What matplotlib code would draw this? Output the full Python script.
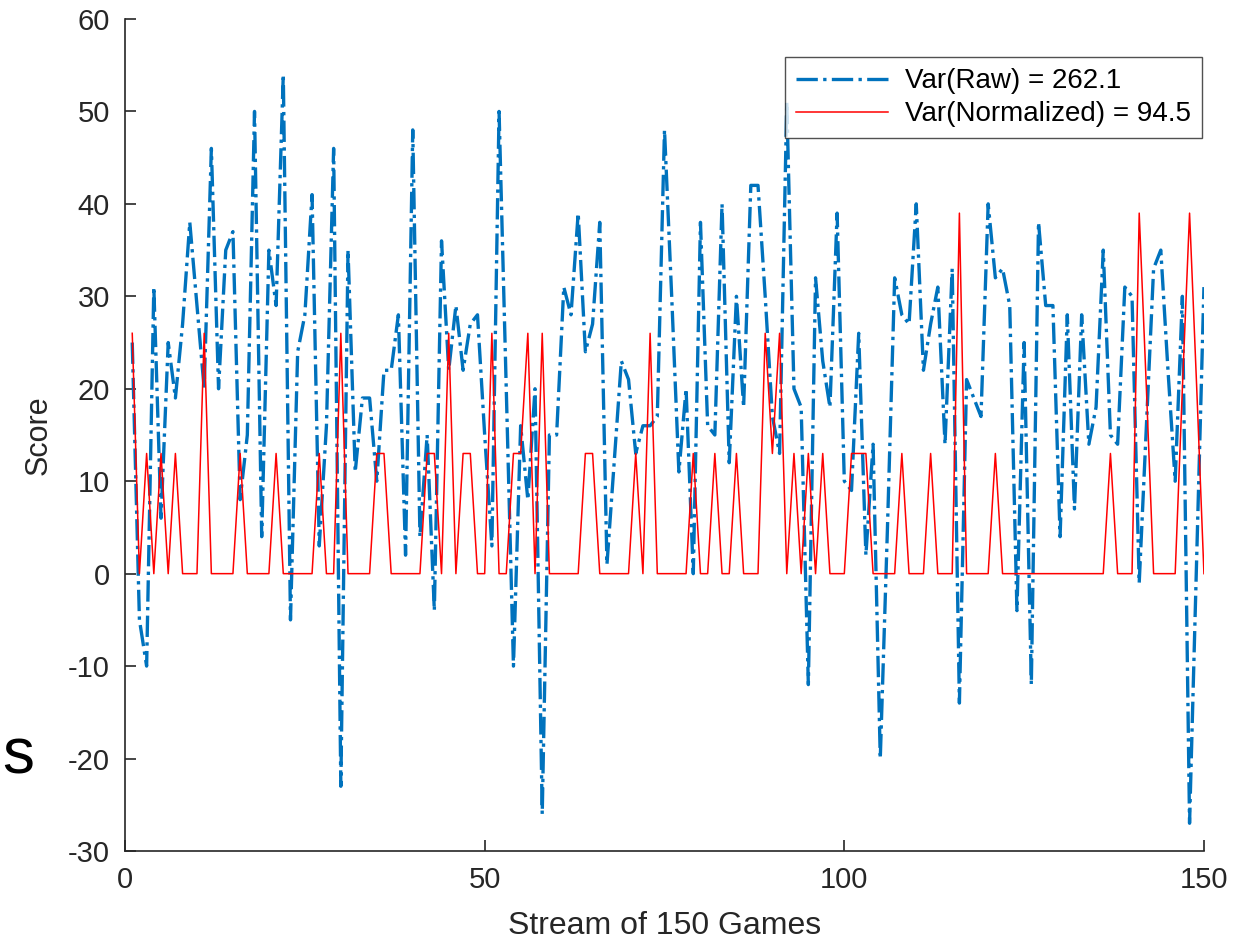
import numpy as np
import matplotlib.pyplot as plt

# scores over the stream of 150 games
games = list(range(1, 151))
raw = [25, -5, -10, 31, 6, 25, 19, 27, 38, 29,
       20, 46, 20, 35, 37, 8, 15, 50, 4, 35,
       29, 54, -5, 24, 28, 41, 3, 16, 46, -23,
       35, 11, 19, 19, 10, 22, 22, 28, 2, 48,
       4, 15, -4, 36, 22, 29, 22, 27, 28, 15,
       3, 50, 20, -10, 16, 8, 20, -26, 15, 15,
       31, 28, 39, 24, 27, 38, 1, 12, 23, 21,
       13, 16, 16, 17, 48, 30, 11, 20, 0, 38,
       16, 15, 40, 12, 30, 18, 42, 42, 30, 17,
       13, 51, 20, 18, -12, 32, 23, 18, 39, 10,
       9, 26, 2, 14, -20, 5, 32, 28, 27, 40,
       22, 27, 31, 14, 33, -14, 21, 19, 17, 40,
       32, 33, 29, -4, 25, -12, 38, 29, 29, 4,
       28, 7, 28, 14, 18, 35, 15, 14, 31, 30,
       -1, 16, 33, 35, 22, 10, 30, -27, 2, 31]
normalized = [26, 0, 13, 0, 13, 0, 13, 0, 0, 0,
              26, 0, 0, 0, 0, 13, 0, 0, 0, 0,
              13, 0, 0, 0, 0, 0, 13, 0, 0, 26,
              0, 0, 0, 0, 13, 13, 0, 0, 0, 0,
              0, 13, 13, 0, 26, 0, 13, 13, 0, 0,
              26, 0, 0, 13, 13, 26, 0, 26, 0, 0,
              0, 0, 0, 13, 13, 0, 0, 0, 0, 0,
              13, 0, 26, 0, 0, 0, 0, 0, 13, 0,
              0, 13, 0, 0, 13, 0, 0, 0, 26, 13,
              26, 0, 13, 0, 13, 0, 13, 0, 0, 0,
              13, 13, 13, 0, 0, 0, 0, 13, 0, 0,
              0, 13, 0, 0, 0, 39, 0, 0, 0, 0,
              13, 0, 0, 0, 0, 0, 0, 0, 0, 0,
              0, 0, 0, 0, 0, 0, 13, 0, 0, 0,
              39, 20, 0, 0, 0, 0, 20, 39, 20, 0]
labels = ['Var(Raw) = 262.1', 'Var(Normalized) = 94.5']

plt.rcParams['font.family'] = ['Liberation Sans', 'DejaVu Sans']
plt.rcParams['axes.unicode_minus'] = False
axcol = '#262626'

fig = plt.figure(figsize=(12.48, 9.4), dpi=100)
ax = fig.add_axes([0.1002, 0.0947, 0.8645, 0.8851])

ax.plot(games, raw, color='#0072BD', linestyle='-.', linewidth=2.4, label=labels[0])
ax.plot(games, normalized, color='red', linestyle='-', linewidth=1.1, label=labels[1])

ax.set_xlim(0, 150)
ax.set_ylim(-30, 60)
ax.set_xticks([0, 50, 100, 150])
ax.set_yticks(np.arange(-30, 61, 10))
ax.spines['top'].set_visible(False)
ax.spines['right'].set_visible(False)
for s in ['left', 'bottom']:
    ax.spines[s].set_color(axcol)
    ax.spines[s].set_linewidth(1.2)
ax.tick_params(direction='in', length=8, width=1.2, colors=axcol, labelsize=21, pad=11)

ax.set_xlabel('Stream of 150 Games', fontsize=23, color=axcol, labelpad=12)
ax.set_ylabel('Score', fontsize=22, color=axcol, labelpad=10, fontstretch='condensed')

leg = ax.legend(loc='upper right', fontsize=20, handlelength=3.3, frameon=True,
                fancybox=False, edgecolor=axcol, borderpad=0.4, labelspacing=0.25,
                handletextpad=0.6, borderaxespad=0, bbox_to_anchor=(0.998, 0.954))
leg.get_frame().set_linewidth(1.0)

# remnant of text at the left edge of the original figure
fig.text(0.002, 0.163, 's', fontsize=46, color='black', va='bottom')

fig.savefig('out.png', dpi=100)
